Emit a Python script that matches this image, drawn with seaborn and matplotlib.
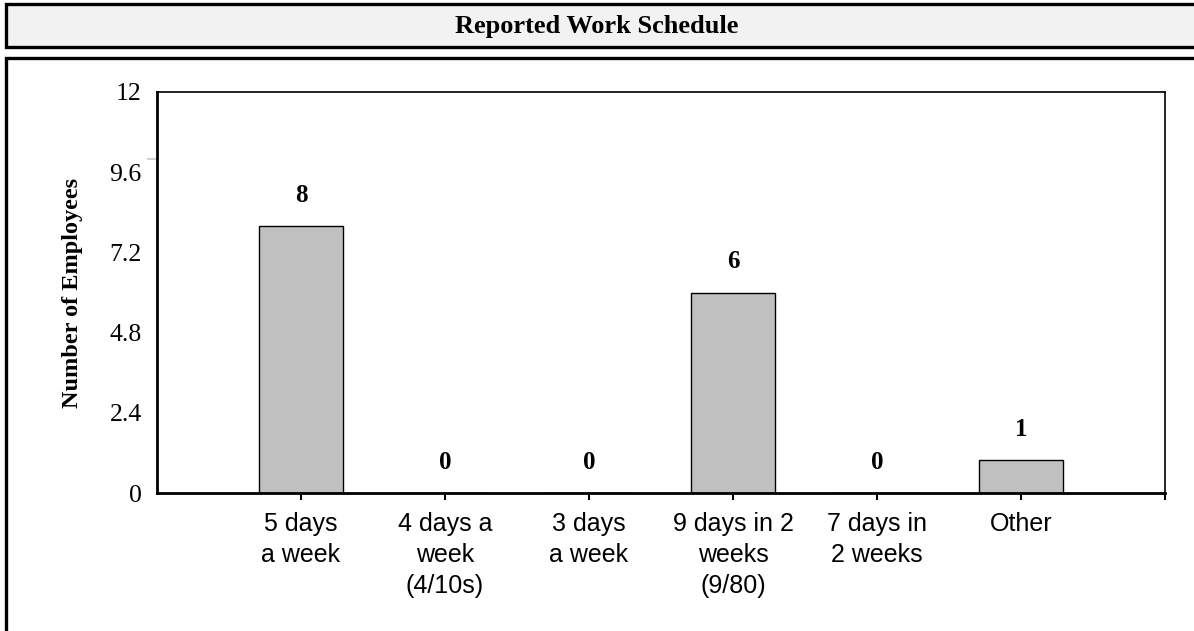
import matplotlib
matplotlib.use("Agg")
import matplotlib.pyplot as plt
import seaborn as sns
import pandas as pd
from matplotlib.patches import Rectangle

# data
categories = ["5 days\na week", "4 days a\nweek\n(4/10s)", "3 days\na week",
              "9 days in 2\nweeks\n(9/80)", "7 days in\n2 weeks", "Other"]
employees = [8, 0, 0, 6, 0, 1]
y_ticks = [0, 2.4, 4.8, 7.2, 9.6, 12]
y_tick_labels = ["0", "2.4", "4.8", "7.2", "9.6", "12"]
grey_ticks = [0, 10]

df = pd.DataFrame({"schedule": categories, "count": employees})

sns.set_style("white")
plt.rcParams["font.family"] = ["Liberation Serif", "DejaVu Serif"]

W, H = 1194, 631
fig = plt.figure(figsize=(W / 100, H / 100), dpi=100)

# outer boxes (title strip + chart frame)
fig.patches.append(Rectangle((6 / W, 1 - 47 / H), 1.2, 43 / H, transform=fig.transFigure,
                             facecolor="#f2f2f2", edgecolor="black", linewidth=2.4, zorder=-2))
fig.patches.append(Rectangle((6 / W, -0.2), 1.2, 1.2 - 58 / H, transform=fig.transFigure,
                             facecolor="white", edgecolor="black", linewidth=2.4, zorder=-2))
fig.text(0.5, 1 - 26 / H, "Reported Work Schedule", ha="center", va="center",
         fontsize=19, fontweight="bold", family=["Liberation Serif"], color="black")

ax = fig.add_axes([157 / W, 1 - 493 / H, 1008 / W, 401 / H])
ax.set_zorder(2)
sns.barplot(data=df, x="schedule", y="count", color="#c0c0c0", edgecolor="black",
            linewidth=1.0, width=0.59, saturation=1, ax=ax)

ax.set_xlim(-1, 6)
ax.set_ylim(0, 12)
ax.set_yticks(y_ticks)
ax.set_yticklabels(y_tick_labels, fontsize=18.5, family=["Liberation Serif"])
ax.set_yticks(grey_ticks, minor=True)
ax.set_xticks(list(range(len(categories) + 1)))
ax.set_xticklabels(categories + [""], fontsize=18, family=["Liberation Sans"],
                   linespacing=1.36)
ax.tick_params(axis="x", direction="out", length=5, width=1.5, color="black", pad=9,
               bottom=True, labelcolor="black")
ax.tick_params(axis="y", which="major", direction="out", length=0, pad=11,
               left=True, labelcolor="black")
ax.tick_params(axis="y", which="minor", direction="out", length=7, width=1.5,
               color="#d0d0d0", left=True)
ax.set_xlabel("")
ax.set_ylabel("Number of Employees", fontsize=17.5, fontweight="bold",
              family=["Liberation Serif"], color="black")
ax.yaxis.set_label_coords(-0.0734, 0.5)

for s in ["top", "right"]:
    ax.spines[s].set_linewidth(1.2)
    ax.spines[s].set_color("black")
for s in ["left", "bottom"]:
    ax.spines[s].set_linewidth(2.0)
    ax.spines[s].set_color("black")

for i, v in enumerate(employees):
    ax.annotate(str(v), (i, v), xytext=(0, 22), textcoords="offset points",
                ha="center", va="center", fontsize=18, fontweight="bold",
                family=["Liberation Serif"], color="black")

fig.savefig("out.png", dpi=100)
